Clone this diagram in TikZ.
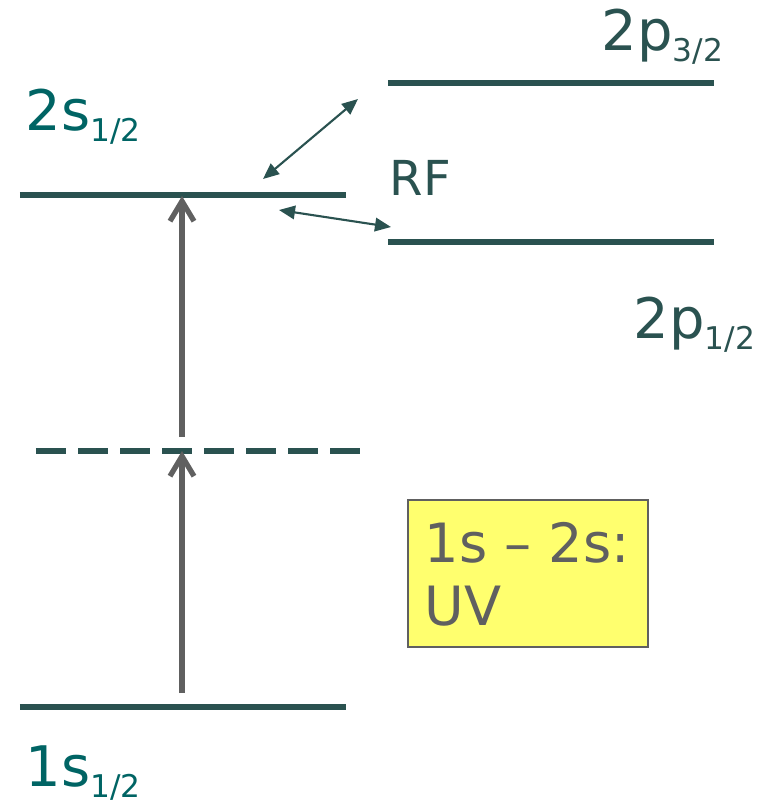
\documentclass[tikz,border=0pt]{standalone}
\usepackage{fontspec}
\setmainfont{DejaVu Sans}
\usetikzlibrary{arrows.meta}

\definecolor{levelcol}{RGB}{42,82,80}
\definecolor{stlabel}{RGB}{0,100,100}
\definecolor{uvgrey}{RGB}{96,96,96}
\definecolor{boxyellow}{RGB}{255,255,110}

\newcommand{\lvlsub}[1]{\raisebox{-3.4pt}{\fontsize{8.9pt}{10pt}\selectfont #1}}

\begin{document}
\begin{tikzpicture}[
        x=0.01cm, y=-0.01cm,
        level/.style={levelcol, line width=1.45pt},
        virtual/.style={levelcol, line width=1.45pt, dash pattern=on 0.3cm off 0.12cm},
        photon/.style={uvgrey, line width=1.6pt, -{Straight Barb[length=2mm, width=2.4mm, line width=1.5pt]}},
        rf/.style={levelcol, line width=0.6pt, {Triangle[length=1.6mm, width=1.35mm]}-{Triangle[length=1.6mm, width=1.35mm]}},
        slabel/.style={anchor=base west, inner sep=0pt, text=stlabel, font=\fontsize{15.9pt}{19pt}\selectfont},
        plabel/.style={anchor=base west, inner sep=0pt, text=levelcol, font=\fontsize{15.9pt}{19pt}\selectfont},
        uvbox/.style={draw=uvgrey, line width=0.5pt, fill=boxyellow, anchor=north west, minimum width=2.4cm, minimum height=1.47cm, inner sep=0pt},
        uvtext/.style={anchor=base west, inner sep=0pt, text=uvgrey, font=\fontsize{15.4pt}{18pt}\selectfont}
    ]
        \useasboundingbox (0,0) rectangle (763,802);

        % Levels
        \coordinate (s2a) at (20,195);   \coordinate (s2b) at (346,195);
        \coordinate (s1a) at (20,707);   \coordinate (s1b) at (346,707);
        \coordinate (pha) at (388,83);   \coordinate (phb) at (714,83);
        \coordinate (pla) at (388,242);  \coordinate (plb) at (714,242);
        \coordinate (va) at (36,451);    \coordinate (vb) at (360,451);
        \draw[level] (s2a) -- (s2b);
        \draw[level] (s1a) -- (s1b);
        \draw[level] (pha) -- (phb);
        \draw[level] (pla) -- (plb);
        \draw[virtual] (va) -- (vb);

        % Level labels
        \node[slabel] (l2s) at (25,130) {2s\lvlsub{1/2}};
        \node[slabel] (l1s) at (25,786) {1s\lvlsub{1/2}};
        \node[plabel] (l2p3) at (601,50) {2p\lvlsub{3/2}};
        \node[plabel] (l2p1) at (633,338) {2p\lvlsub{1/2}};

        % Two-photon excitation
        \coordinate (up1) at (182,693);  \coordinate (up1t) at (182,451);
        \coordinate (up2) at (182,437);  \coordinate (up2t) at (182,196);
        \draw[photon] (up1) -- (up1t);
        \draw[photon] (up2) -- (up2t);

        % RF transitions
        \coordinate (rfa) at (263,179);  \coordinate (rfb) at (358,99);
        \coordinate (rfc) at (279,210);  \coordinate (rfd) at (391,227);
        \draw[rf] (rfa) -- (rfb);
        \draw[rf] (rfc) -- (rfd);
        \node[plabel, font=\fontsize{13.7pt}{16pt}\selectfont] (rflabel) at (389,195) {RF};

        % UV note
        \node[uvbox] (uv) at (407,499) {};
        \node[uvtext] (uvline1) at (424,562) {1s – 2s:};
        \node[uvtext] (uvline2) at (424,625) {UV};

    \end{tikzpicture}
\end{document}
